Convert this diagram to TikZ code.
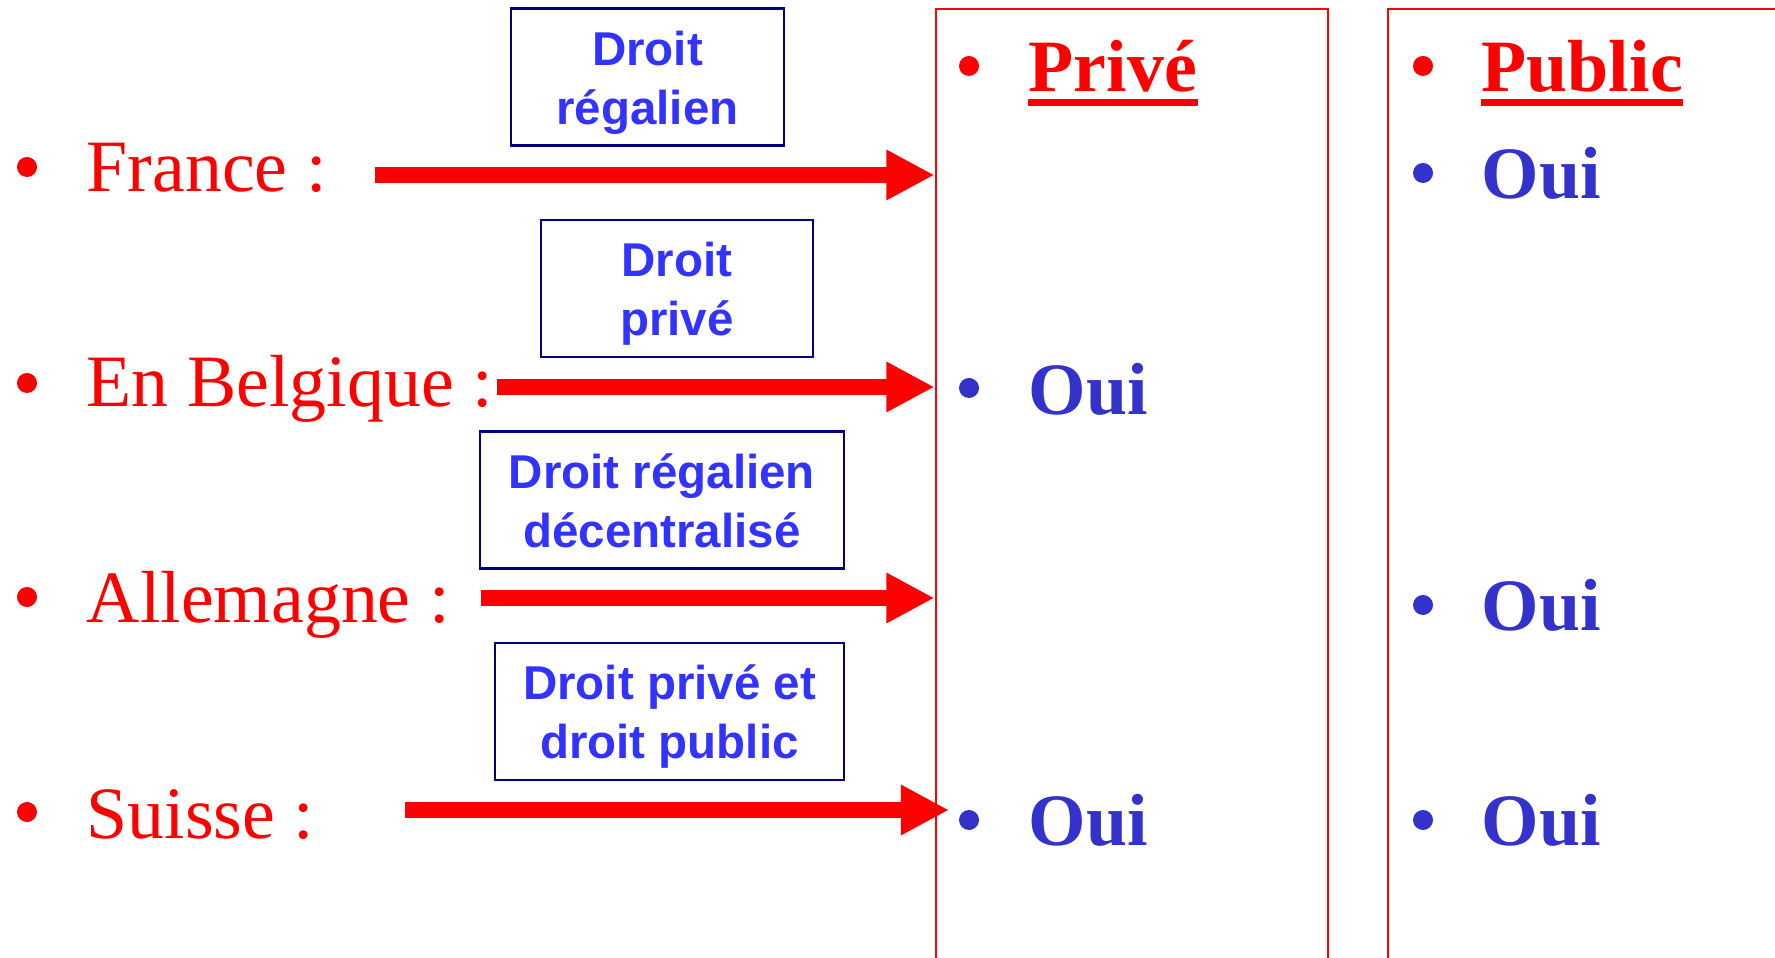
\documentclass[tikz,border=0pt]{standalone}
\usepackage{fontspec}
\setmainfont{Liberation Serif}
\newfontfamily\boxfont{Liberation Sans}
\usepackage{xcolor}
\usepackage{tikz}
\usetikzlibrary{arrows.meta}

\definecolor{ouiblue}{RGB}{51,51,204}
\definecolor{boxblue}{RGB}{51,51,255}
\definecolor{boxnavy}{RGB}{0,0,128}

\begin{document}
\begin{tikzpicture}[x=0.01cm, y=-0.01cm,
  country/.style={anchor=base west, inner sep=0, text=red, font=\fontsize{21}{25}\selectfont},
  oui/.style={anchor=base west, inner sep=0, text=ouiblue, font=\fontsize{21}{25}\selectfont\bfseries},
  colhead/.style={anchor=base west, inner sep=0, text=red, font=\fontsize{21}{25}\selectfont\bfseries},
  dot/.style={circle, fill=#1, inner sep=0, minimum size=0.2cm},
  lawbox/.style={draw=boxnavy, line width=0.6pt, text=boxblue, align=center, inner sep=0, minimum height=1.37cm, text height=29.6pt, text depth=2.6pt, font=\boxfont\bfseries\fontsize{13.5}{16.8}\selectfont},
  column/.style={draw=red, line width=0.6pt, anchor=north west, inner sep=0, minimum height=10cm},
  bigarrow/.style={red, line width=0.16cm, -{Triangle[length=0.48cm, width=0.47cm]}},
  uline/.style={red, line width=2pt}]

\useasboundingbox (0,0) rectangle (1775,958);

\node[column, minimum width=3.92cm] (prive) at (934.5,8.3) {};
\node[column, minimum width=4.2cm] (public) at (1387,8.3) {};

\node[dot=red] (fr-dot) at (27,167) {};
\node[country] (fr) at (86,192) {France :};
\node[dot=red] (be-dot) at (27,383) {};
\node[country] (be) at (86,407) {En Belgique :};
\node[dot=red] (de-dot) at (27,597) {};
\node[country] (de) at (86,623) {Allemagne :};
\node[dot=red] (ch-dot) at (27,812) {};
\node[country] (ch) at (86,838) {Suisse :};

\node[lawbox, minimum width=2.73cm] (fr-box) at (647.5,77) {Droit\\régalien};
\node[lawbox, minimum width=2.72cm] (be-box) at (677,288.5) {Droit\\privé};
\node[lawbox, minimum width=3.64cm] (de-box) at (662,500) {Droit régalien\\décentralisé};
\node[lawbox, minimum width=3.49cm] (ch-box) at (669.5,711.5) {Droit privé et\\droit public};

\coordinate (fr-s) at (375,175);
\coordinate (be-s) at (497,387);
\coordinate (de-s) at (481,598);
\coordinate (ch-s) at (405,810);

\draw[bigarrow] (fr-s) -- (fr-s -| prive.west);
\draw[bigarrow] (be-s) -- (be-s -| prive.west);
\draw[bigarrow] (de-s) -- (de-s -| prive.west);
\draw[bigarrow] (ch-s) -- ([xshift=0.145cm]ch-s -| prive.west);

\node[dot=red] (prv-dot) at (969,66) {};
\node[colhead] (prv) at (1028,92) {Privé};
\draw[uline] ([yshift=-0.105cm]prv.base west) -- ([yshift=-0.105cm]prv.base east);
\node[dot=red] (pub-dot) at (1423,66) {};
\node[colhead] (pub) at (1481,92) {Public};
\draw[uline] ([yshift=-0.105cm]pub.base west) -- ([yshift=-0.105cm]pub.base east);

\node[dot=ouiblue] (pub-fr-dot) at (1423,173) {};
\node[oui] (pub-fr) at (1481,199) {Oui};
\node[dot=ouiblue] (prv-be-dot) at (969,388) {};
\node[oui] (prv-be) at (1028,415) {Oui};
\node[dot=ouiblue] (pub-de-dot) at (1423,605) {};
\node[oui] (pub-de) at (1481,630) {Oui};
\node[dot=ouiblue] (prv-ch-dot) at (969,820) {};
\node[oui] (prv-ch) at (1028,845) {Oui};
\node[dot=ouiblue] (pub-ch-dot) at (1423,820) {};
\node[oui] (pub-ch) at (1481,845) {Oui};

\end{tikzpicture}
\end{document}
